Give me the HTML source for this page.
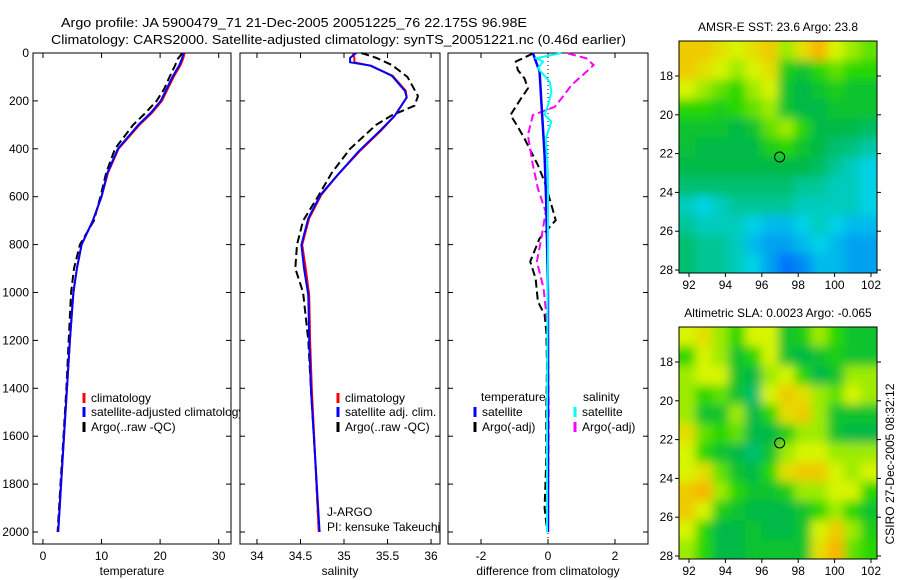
<!DOCTYPE html>
<html><head><meta charset="utf-8"><style>
html,body{margin:0;padding:0;background:#fff;}
svg{display:block;font-family:"Liberation Sans",sans-serif;font-size:12px;}
</style></head><body>
<svg id="chart" width="900" height="580" viewBox="0 0 900 580" xmlns="http://www.w3.org/2000/svg">
<defs>
<filter id="blur" x="-5%" y="-5%" width="110%" height="110%"><feGaussianBlur stdDeviation="5"/></filter>
<clipPath id="clipMap1"><rect x="679" y="41" width="198" height="232"/></clipPath>
<clipPath id="clipMap2"><rect x="679" y="327" width="198" height="232"/></clipPath>
</defs>
<text x="61" y="27" font-size="13" textLength="466" lengthAdjust="spacingAndGlyphs">Argo profile: JA 5900479_71 21-Dec-2005 20051225_76 22.175S 96.98E</text>
<text x="51" y="44" font-size="13" textLength="575" lengthAdjust="spacingAndGlyphs">Climatology: CARS2000. Satellite-adjusted climatology: synTS_20051221.nc (0.46d earlier)</text>
<g id="panels"></g>
<text transform="translate(894,464) rotate(-90)" text-anchor="middle">CSIRO 27-Dec-2005 08:32:12</text>
</svg>
<script>
const NS="http://www.w3.org/2000/svg";
const root=document.getElementById('panels');
function mk(tag,attrs,parent){const e=document.createElementNS(NS,tag);for(const k in attrs)e.setAttribute(k,attrs[k]);(parent||root).appendChild(e);return e;}

// ---- profile data ----
const tDepth=[0,25,50,100,150,200,250,300,400,500,600,700,800,900,1000,1200,1400,1600,1800,2000];
const tClim=[24.2,23.9,23.5,22.3,21.3,20.3,18.6,16.5,12.9,11.1,10.0,8.5,6.6,5.8,5.2,4.6,4.1,3.6,3.1,2.6];
const tSat=[24.0,23.7,23.3,22.1,21.1,20.1,18.4,16.3,12.8,11.0,10.0,8.5,6.6,5.8,5.2,4.6,4.1,3.6,3.1,2.6];
const tArgo=[23.8,23.0,22.6,21.6,20.7,19.4,17.5,15.4,12.3,10.8,9.8,8.7,6.3,5.3,4.8,4.4,4.0,3.5,3.0,2.5];

const sDepth=[0,20,39,53,95,158,186,263,326,410,508,592,690,801,899,1011,1200,1400,1700,2000];
const sClim=[35.10,35.12,35.12,35.30,35.56,35.71,35.72,35.58,35.42,35.18,34.93,34.74,34.60,34.52,34.56,34.60,34.61,34.63,34.67,34.71];
const sSat=[35.14,35.07,35.07,35.31,35.55,35.70,35.72,35.58,35.41,35.17,34.93,34.73,34.59,34.51,34.54,34.59,34.60,34.62,34.67,34.72];
const sArgoDepth=[0,20,50,100,180,220,260,300,400,500,600,700,800,900,1000,1200,1400,1700,2000];
const sArgo=[35.20,35.37,35.55,35.73,35.85,35.81,35.55,35.37,35.07,34.86,34.70,34.53,34.46,34.44,34.53,34.59,34.62,34.67,34.71];

const dTDepth=[2,36,71,106,148,197,259,308,357,413,468,538,649,698,774,871,941,1038,1093,1163,1300,1500,1700,1900,2000];
const dTArgo=[-0.45,-0.96,-0.9,-0.7,-0.6,-0.84,-1.12,-0.9,-0.7,-0.5,-0.3,-0.1,0.13,0.23,-0.25,-0.53,-0.37,-0.3,-0.1,-0.05,-0.03,-0.05,-0.05,-0.1,-0.02];
const dTSatDepth=[0,20,78,200,427,635,1000,1500,2000];
const dTSat=[-0.45,-0.4,-0.25,-0.2,-0.1,-0.05,0,0,0];
const dSDepth=[2,22,50,92,134,190,225,259,343,455,566,663,774,871,983,1163,1500,2000];
const dSArgo=[0.6,1.14,1.36,1.04,0.7,0.4,0.2,-0.45,-0.6,-0.47,-0.3,-0.07,-0.2,-0.33,-0.13,0,0.02,0];
const dSSatDepth=[0,22,36,64,120,162,218,259,287,357,500,800,1200,1600,2000];
const dSSat=[0.4,-0.35,-0.15,-0.3,0.05,0.1,0,-0.1,0.1,-0.07,0,0,-0.02,-0.03,-0.03];

const depthTicks=[0,200,400,600,800,1000,1200,1400,1600,1800,2000];
const tTicks=[0,10,20,30];
const sTicks=[34,34.5,35,35.5,36];
const dTicks=[-2,0,2];

const yOrigin=53, yPer=0.2395, pTop=53, pBot=544;
const yScale=d=>yOrigin+d*yPer;

function panel(name,x0,x1,vmin,vmax,ticks,title,showDepthLabels){
  const g=mk('g',{});
  
  
  const xs=v=>x0+(v-vmin)/(vmax-vmin)*(x1-x0);
  const r=mk('rect',{x:x0,y:pTop,width:x1-x0,height:pBot-pTop,fill:'#fff',stroke:'#000','stroke-width':1},g);
  
  
  depthTicks.forEach(d=>{
    const y=yScale(d);
    mk('line',{x1:x0,x2:x0+5,y1:y,y2:y,stroke:'#000'},g);
    mk('line',{x1:x1,x2:x1-5,y1:y,y2:y,stroke:'#000'},g);
    if(showDepthLabels){const t=mk('text',{x:x0-4,y:y+4,'text-anchor':'end'},g);t.textContent=d;
      
      }
  });
  ticks.forEach(v=>{
    const x=xs(v);
    mk('line',{x1:x,x2:x,y1:pBot,y2:pBot-5,stroke:'#000'},g);
    mk('line',{x1:x,x2:x,y1:pTop,y2:pTop+5,stroke:'#000'},g);
    const t=mk('text',{x:x,y:560,'text-anchor':'middle'},g);t.textContent=v;
    
    
  });
  const at=mk('text',{x:(x0+x1)/2,y:575,'text-anchor':'middle'},g);at.textContent=title;
  
  
  return {g,xs};
}
function line(p,depths,vals,color,dash,name,w){
  const pts=depths.map((d,i)=>p.xs(vals[i]).toFixed(1)+','+yScale(d).toFixed(1)).join(' ');
  const l=mk('polyline',{points:pts,fill:'none',stroke:color,'stroke-width':w||2},p.g);
  if(dash) l.setAttribute('stroke-dasharray',dash);
  
  
}
function legendItem(g,x,y,color,label){
  mk('line',{x1:x,x2:x,y1:y-9,y2:y+1,stroke:color,'stroke-width':3},g);
  const t=mk('text',{x:x+7,y:y},g);t.textContent=label;
  
  
}

// Panel 1 temperature
const p1=panel('temperature-panel',33,231,-1.7,32.1,tTicks,'temperature',true);
line(p1,tDepth,tArgo,'#000','8,4','argo-temperature-line');
line(p1,tDepth,tClim,'#f00',null,'climatology-temperature-line');
line(p1,tDepth,tSat,'#00f',null,'satellite-temperature-line');
legendItem(p1.g,84,402,'#f00','climatology');
legendItem(p1.g,84,416,'#00f','satellite-adjusted climatology');
legendItem(p1.g,84,431,'#000','Argo(..raw -QC)');

// Panel 2 salinity
const p2=panel('salinity-panel',240,440,33.805,36.103,sTicks,'salinity',false);
line(p2,sArgoDepth,sArgo,'#000','8,4','argo-salinity-line');
line(p2,sDepth,sClim,'#f00',null,'climatology-salinity-line');
line(p2,sDepth,sSat,'#00f',null,'satellite-salinity-line');
legendItem(p2.g,338,402,'#f00','climatology');
legendItem(p2.g,338,416,'#00f','satellite adj. clim.');
legendItem(p2.g,338,431,'#000','Argo(..raw -QC)');
const ja=mk('text',{x:327,y:516},p2.g);ja.textContent='J-ARGO';


const pi=mk('text',{x:327,y:531},p2.g);pi.textContent='PI: kensuke Takeuchi';



// Panel 3 differences
const p3=panel('difference-panel',448,648,-2.985,2.985,dTicks,'difference from climatology',false);
mk('line',{x1:p3.xs(0),x2:p3.xs(0),y1:pTop,y2:pBot,stroke:'#000','stroke-dasharray':'1,3'},p3.g);
line(p3,dTDepth,dTArgo,'#000','8,4','argo-temperature-diff-line');
line(p3,dSDepth,dSArgo,'#f0f','8,4','argo-salinity-diff-line');
line(p3,dTSatDepth,dTSat,'#00f',null,'satellite-temperature-diff-line',2.5);
line(p3,dSSatDepth,dSSat,'#0ff',null,'satellite-salinity-diff-line',2);
const lt=mk('text',{x:481,y:401},p3.g);lt.textContent='temperature';


const ls=mk('text',{x:583,y:401},p3.g);ls.textContent='salinity';


legendItem(p3.g,475,416,'#00f','satellite');
legendItem(p3.g,575,416,'#0ff','satellite');
legendItem(p3.g,475,431,'#000','Argo(-adj)');
legendItem(p3.g,575,431,'#f0f','Argo(-adj)');

// ---- maps ----
const sstGrid=[
[.85,.85,.8,.75,.8,.85,.7,.8,.9,.75,.7,.65],
[.85,.8,.75,.7,.75,.8,.55,.5,.6,.65,.6,.6],
[.75,.7,.65,.6,.7,.75,.5,.45,.5,.55,.5,.5],
[.6,.6,.55,.6,.65,.7,.5,.45,.45,.5,.5,.5],
[.5,.5,.5,.45,.5,.65,.7,.6,.45,.45,.45,.42],
[.48,.45,.45,.45,.45,.55,.6,.5,.45,.4,.38,.33],
[.45,.45,.45,.45,.45,.45,.45,.45,.42,.35,.3,.25],
[.4,.4,.4,.4,.4,.4,.4,.35,.35,.3,.3,.25],
[.3,.25,.3,.35,.35,.35,.35,.3,.3,.3,.3,.25],
[.35,.3,.3,.3,.25,.2,.2,.25,.3,.25,.2,.2],
[.4,.35,.35,.3,.2,.15,.15,.2,.25,.2,.15,.15],
[.4,.35,.35,.3,.25,.15,.05,.1,.2,.2,.15,.15]];
const slaGrid=[
[.75,.8,.7,.6,.75,.75,.5,.55,.7,.6,.5,.5],
[.6,.75,.7,.5,.6,.75,.5,.45,.5,.55,.5,.5],
[.7,.75,.75,.5,.45,.7,.75,.6,.45,.5,.7,.7],
[.7,.6,.65,.5,.4,.75,.85,.8,.7,.65,.75,.7],
[.7,.5,.5,.7,.45,.6,.8,.85,.7,.5,.5,.5],
[.8,.65,.6,.65,.45,.45,.55,.7,.7,.5,.45,.45],
[.75,.6,.5,.45,.4,.5,.7,.75,.75,.7,.7,.7],
[.75,.8,.65,.5,.45,.6,.8,.85,.85,.75,.7,.75],
[.85,.9,.7,.6,.5,.5,.55,.7,.7,.75,.75,.6],
[.85,.75,.55,.5,.45,.45,.45,.5,.6,.7,.6,.5],
[.75,.6,.45,.45,.5,.45,.45,.5,.75,.85,.7,.55],
[.7,.6,.45,.45,.5,.5,.5,.5,.8,.9,.65,.6]];
const lonTicks=[92,94,96,98,100,102];
const latTicks=[18,20,22,24,26,28];
const argoLon=96.98, argoLat=22.175;

const stops=[[0,[0,90,255]],[0.25,[0,210,230]],[0.45,[0,185,70]],[0.6,[40,215,0]],[0.75,[215,245,0]],[0.9,[250,180,0]],[1,[250,120,0]]];
function cmap(v){for(let i=1;i<stops.length;i++){if(v<=stops[i][0]){const a=stops[i-1],b=stops[i];const t=(v-a[0])/(b[0]-a[0]);
  const c=a[1].map((x,k)=>Math.round(x+(b[1][k]-x)*t));return 'rgb('+c.join(',')+')';}}return 'rgb(250,120,0)';}

function drawMap(name,grid,y0m,y1m,title,clip,lat18y,lat28y){
  const g=mk('g',{});
  
  
  const x0=679,x1=877;
  const lx=v=>689+(v-92)*18.2;
  const ly=v=>lat18y+(v-18)*(lat28y-lat18y)/10;
  const img=mk('g',{'clip-path':'url(#'+clip+')'},g);
  const inner=mk('g',{filter:'url(#blur)'},img);
  const n=grid.length,m=grid[0].length;
  const cw=(x1-x0)/m,ch=(y1m-y0m)/n;
  grid.forEach((row,i)=>row.forEach((v,j)=>{
    let x=x0+j*cw,y=y0m+i*ch,w=cw+0.6,h=ch+0.6;
    if(j===0){x-=12;w+=12;} if(j===m-1){w+=12;}
    if(i===0){y-=12;h+=12;} if(i===n-1){h+=12;}
    const r=mk('rect',{x:x,y:y,width:w,height:h,fill:cmap(v)},inner);
    
    
  }));
  mk('rect',{x:x0,y:y0m,width:x1-x0,height:y1m-y0m,fill:'none',stroke:'#000'},g);
  lonTicks.forEach(v=>{const x=lx(v);mk('line',{x1:x,x2:x,y1:y1m,y2:y1m+4,stroke:'#000'},g);
    const t=mk('text',{x:x,y:y1m+16,'text-anchor':'middle'},g);t.textContent=v;
    
    });
  latTicks.forEach(v=>{const y=ly(v);mk('line',{x1:x0,x2:x0-4,y1:y,y2:y,stroke:'#000'},g);
    mk('line',{x1:x1,x2:x1+4,y1:y,y2:y,stroke:'#000'},g);
    const t=mk('text',{x:x0-6,y:y+4,'text-anchor':'end'},g);t.textContent=v;
    
    });
  const c=mk('circle',{cx:lx(argoLon),cy:ly(argoLat),r:5,fill:'none',stroke:'#000','stroke-width':1},g);
  
  
  const t=mk('text',{x:(x0+x1)/2,y:y0m-10,'text-anchor':'middle'},g);t.textContent=title;
  
  
}
drawMap('sst-map',sstGrid,41,273,'AMSR-E SST: 23.6 Argo: 23.8','clipMap1',76,270);
drawMap('sla-map',slaGrid,327,559,'Altimetric SLA: 0.0023 Argo: -0.065','clipMap2',362,556);
</script>
</body></html>
